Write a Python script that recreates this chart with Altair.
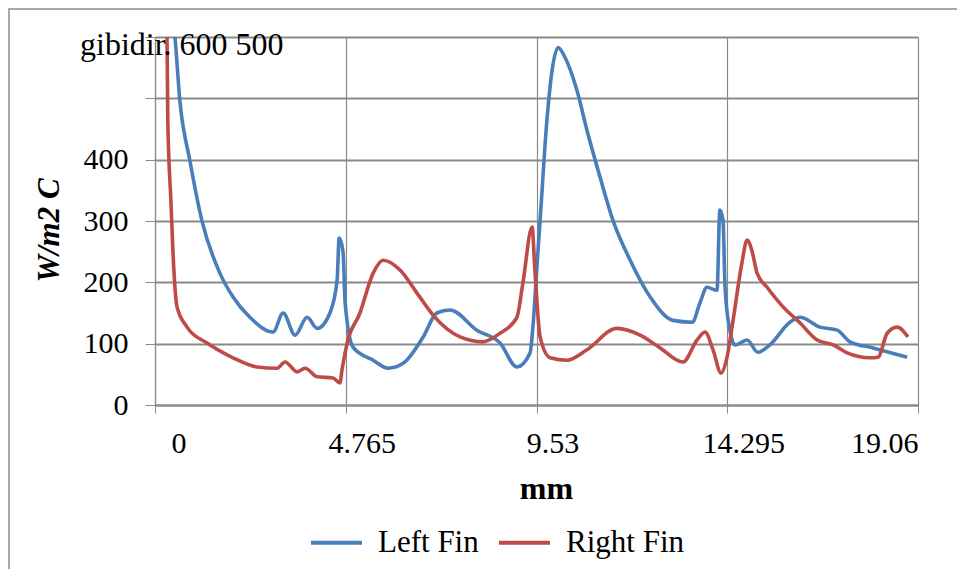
import altair as alt
import pandas as pd

# ---- data ----
left_x = [0.35, 0.50, 0.62, 0.87, 1.17, 1.62, 1.95, 2.37, 2.95, 3.20, 3.50, 3.80, 4.05, 4.37,
          4.55, 4.60, 4.70, 4.75, 4.95, 5.45, 5.82, 6.20, 6.70, 7.04, 7.37, 8.04, 8.62, 9.04,
          9.37, 9.44, 9.54, 9.62, 9.79, 9.92, 10.07, 10.24, 10.54, 10.79, 11.12, 11.44, 11.87,
          12.37, 12.94, 13.42, 13.61, 13.79, 14.04, 14.11, 14.19, 14.24, 14.36, 14.49, 14.79,
          15.06, 15.36, 15.86, 16.11, 16.61, 17.04, 17.36, 17.94, 18.79]
left_y = [680, 599, 497, 399, 301, 215, 176, 143, 119, 150, 114, 143, 125, 150,
          204, 272, 248, 166, 94, 73, 60, 68, 111, 150, 155, 122, 101, 62,
          85, 127, 225, 301, 464, 546, 583, 567, 513, 448, 371, 301, 236,
          176, 138, 135, 166, 192, 187, 318, 301, 192, 122, 98, 106,
          86, 98, 135, 143, 127, 122, 103, 93, 78]

right_x = [0.25, 0.30, 0.32, 0.40, 0.45, 0.55, 0.80, 1.30, 1.95, 2.55, 3.05, 3.25, 3.55, 3.75,
           4.05, 4.45, 4.62, 4.67, 4.80, 5.12, 5.45, 5.70, 6.12, 6.55, 6.94, 7.62, 8.19, 8.62,
           9.04, 9.19, 9.42, 9.49, 9.62, 9.87, 10.29, 10.79, 11.54, 12.12, 12.62, 13.19, 13.54,
           13.74, 13.94, 14.14, 14.29, 14.44, 14.66, 14.79, 14.91, 15.04, 15.29, 15.69, 16.11,
           16.54, 16.94, 17.29, 17.86, 18.06, 18.29, 18.54, 18.81]
right_y = [660, 599, 464, 329, 248, 160, 127, 101, 77, 62, 60, 70, 54, 60,
           46, 44, 36, 57, 101, 150, 215, 236, 220, 182, 147, 111, 103, 117,
           143, 199, 290, 220, 111, 77, 73, 90, 125, 114, 93, 70, 106,
           119, 90, 52, 78, 138, 231, 269, 252, 215, 192, 160, 134,
           106, 98, 85, 77, 78, 117, 127, 111]

series_names = ["Left Fin", "Right Fin"]
series_colors = ["#4A7EBB", "#BE4B48"]
x_ticks = [0, 4.765, 9.53, 14.295, 19.06]
y_ticks = [0, 100, 200, 300, 400, 500, 600]
corner_text = "gibidir. 600 500"

df = pd.concat([
    pd.DataFrame({"mm": left_x, "h": left_y, "series": series_names[0]}),
    pd.DataFrame({"mm": right_x, "h": right_y, "series": series_names[1]}),
], ignore_index=True)

GRID = "#8a8a8a"
FONT = "Liberation Serif"
W, H = 763, 368

lines = alt.Chart(df).mark_line(clip=True, strokeWidth=3.6, interpolate="monotone").encode(
    x=alt.X("mm:Q",
            scale=alt.Scale(domain=[0, 19.06], nice=False, zero=False),
            axis=alt.Axis(values=x_ticks, labelExpr="format(datum.value, '.5~g')", title="mm",
                          labelFontSize=30, labelPadding=15, tickSize=8,
                          labelOffset={"condition": {"test": "datum.value > 19", "value": 0}, "value": 16},
                          tickColor=GRID, domainColor=GRID, domainWidth=2,
                          gridColor=GRID, gridWidth=1.2,
                          titleFontSize=32, titleFontWeight="bold",
                          titleX=391, titleY=93, titleBaseline="alphabetic", titleAlign="center")),
    y=alt.Y("h:Q",
            scale=alt.Scale(domain=[0, 600], nice=False),
            axis=alt.Axis(values=y_ticks, title="W/m2 C",
                          labelExpr="datum.value > 400 ? '' : datum.label",
                          labelFontSize=30, labelPadding=17, tickSize=10,
                          tickColor=GRID, domainColor=GRID, domainWidth=1.2,
                          gridColor=GRID, gridWidth=1.8,
                          titleFontSize=31, titleFontWeight="bold", titleFontStyle="italic",
                          titleAngle=270, titleX=-97, titleY=193,
                          titleBaseline="alphabetic", titleAlign="center")),
    color=alt.Color("series:N",
                    scale=alt.Scale(domain=series_names, range=series_colors),
                    legend=alt.Legend(orient="none", legendX=154, legendY=478,
                                      direction="horizontal", title=None, padding=0,
                                      symbolType="stroke", symbolSize=2600, symbolStrokeWidth=4,
                                      labelFontSize=31, labelFont=FONT, labelColor="black",
                                      labelOffset=14, columnPadding=12, labelLimit=400)),
)

frame_df = pd.DataFrame({"k": [0]})
frame = alt.Chart(frame_df).mark_rect(fillOpacity=0, stroke="#8c8c8c", strokeWidth=1.5).encode(
    x=alt.value(-146), x2=alt.value(830), y=alt.value(-28), y2=alt.value(580)
)

note = alt.Chart(pd.DataFrame({"t": [corner_text]})).mark_text(
    align="left", baseline="alphabetic", font=FONT, fontSize=32, color="black"
).encode(text="t:N", x=alt.value(-75), y=alt.value(18))

chart = alt.layer(frame, lines, note).properties(
    width=W, height=H,
    autosize=alt.AutoSizeParams(type="none"),
    padding={"left": 147, "top": 29, "right": 39, "bottom": 164},
).configure_axis(
    labelFont=FONT, titleFont=FONT, labelColor="black", titleColor="black"
).configure_view(strokeWidth=0)

chart.save("out.html", embed_options={"renderer": "svg", "actions": False})
